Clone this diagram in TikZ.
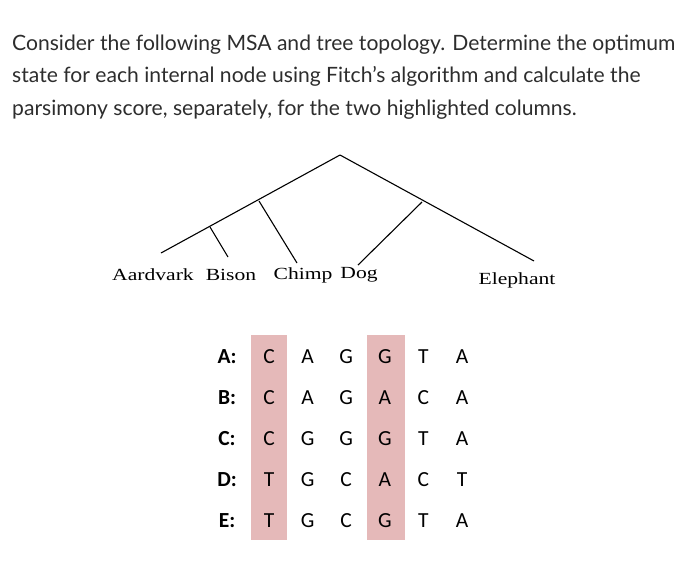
\documentclass[tikz,border=0pt]{standalone}
\usepackage{fontspec}
\setmainfont{Lato}
\newfontfamily\treefont[FakeStretch=1.27]{Liberation Serif}
\newfontfamily\msafont{Carlito}
\definecolor{hlpink}{RGB}{229,185,185}
\definecolor{txtgray}{RGB}{45,45,45}
\tikzset{
  qline/.style={anchor=base west, inner sep=0pt, text=txtgray, font=\fontsize{21.1}{25}\selectfont},
  leaf/.style={font=\treefont\fontsize{17}{20}\selectfont, inner sep=0pt},
  seq/.style={font=\msafont\fontsize{21.5}{24}\selectfont, inner sep=0pt},
  rowlab/.style={font=\msafont\bfseries\fontsize{21.5}{24}\selectfont, inner sep=0pt},
}
\begin{document}
\begin{tikzpicture}[x=1pt, y=-1pt]
    \useasboundingbox (0,0) rectangle (700,584);
    % question
    \node[qline] (q1) at (12,50) {Consider the following MSA and tree topology. Determine the optimum};
    \node[qline] (q2) at (12,82.5) {state for each internal node using Fitch's algorithm and calculate the};
    \node[qline] (q3) at (12,115) {parsimony score, separately, for the two highlighted columns.};

    % tree
    \coordinate (root) at (340, 155);
    \coordinate (abc) at (259, 201);
    \coordinate (ab) at (210, 227);
    \coordinate (de) at (422, 202);
    \coordinate (a) at (161, 253);
    \coordinate (b) at (228, 257);
    \coordinate (c) at (297, 263);
    \coordinate (d) at (358, 265);
    \coordinate (e) at (534, 261);
    \begin{scope}[line width=1.1pt]
    \draw (root) -- (a); \draw (root) -- (e);
    \draw (ab) -- (b); \draw (abc) -- (c);
    \draw (de) -- (d);
    \end{scope}
    \node[leaf] (aardvark) at (153, 275) {Aardvark};
    \node[leaf] (bison) at (231, 275) {Bison};
    \node[leaf] (chimp) at (303, 275) {Chimp};
    \node[leaf] (dog) at (359, 275) {Dog};
    \node[leaf] (elephant) at (517, 280) {Elephant};

    % highlighted columns
    \fill[hlpink] (251, 335) rectangle (287, 540);
    \fill[hlpink] (367, 335) rectangle (405, 540);

    % alignment
    \foreach \r/\s [count=\i] in {A/{C,A,G,G,T,A}, B/{C,A,G,A,C,A}, C/{C,G,G,G,T,A},
                                  D/{T,G,C,A,C,T}, E/{T,G,C,G,T,A}} {
      \node[rowlab] (lab\r) at (227, {357 + (\i-1)*41}) {\r:};
      \foreach \b [count=\j] in \s {
        \node[seq] (s\r\j) at ({269 + (\j-1)*38.6}, {357 + (\i-1)*41}) {\b};
      }
    }
  \end{tikzpicture}
\end{document}
